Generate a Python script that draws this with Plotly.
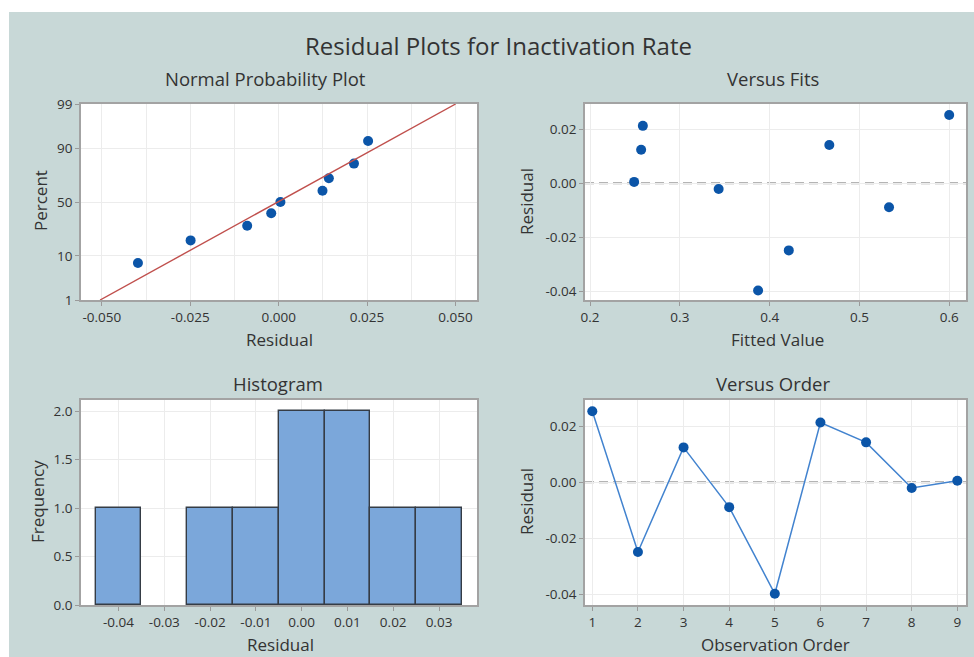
import statistics
from statistics import NormalDist

import plotly.graph_objects as go
from plotly.subplots import make_subplots

# Residuals and fitted values, listed in observation order
observation = [1, 2, 3, 4, 5, 6, 7, 8, 9]
residual = [0.0253, -0.0249, 0.0124, -0.0089, -0.0398, 0.0213, 0.0142, -0.0021, 0.0005]
fitted = [0.5999, 0.4213, 0.2569, 0.5329, 0.3871, 0.2588, 0.4664, 0.3432, 0.2491]

# Plotting positions (percent) for the sorted residuals on the probability plot
percent_positions = [7.4, 18.1, 28.7, 39.4, 50.0, 60.6, 71.3, 81.9, 92.6]
prob_ticks = [1, 10, 50, 90, 99]

# Histogram bins
bin_start, bin_end, bin_size = -0.045, 0.035, 0.01

W, H = 974, 657
BG = "#c8d8d7"
TXT = "#333333"
FONT = "Open Sans"
MARK = "#0b55a8"
FRAME = "#a3a3a3"
GRID = "#ececec"

nd = NormalDist()


def z(p):
    return nd.inv_cdf(p / 100.0)


def fx(px):
    return px / W


def fy(py):
    return 1 - py / H


fig = make_subplots(rows=2, cols=2)

# Normal probability plot
sorted_res = sorted(residual)
fig.add_trace(go.Scatter(
    x=sorted_res, y=[z(p) for p in percent_positions], mode="markers",
    marker=dict(color=MARK, size=10), hoverinfo="x+text",
    text=[f"{p}%" for p in percent_positions]), row=1, col=1)

mu = statistics.mean(residual)
sd = statistics.stdev(residual)
zl = [z(prob_ticks[0]), z(prob_ticks[-1])]
fig.add_trace(go.Scatter(
    x=[mu + sd * v for v in zl], y=zl, mode="lines",
    line=dict(color="#c0504d", width=1.4), hoverinfo="skip"), row=1, col=1)

# Versus fits
fig.add_trace(go.Scatter(
    x=fitted, y=residual, mode="markers",
    marker=dict(color=MARK, size=10)), row=1, col=2)

# Histogram of residuals
fig.add_trace(go.Histogram(
    x=residual, xbins=dict(start=bin_start, end=bin_end, size=bin_size),
    marker=dict(color="#7ba7da", line=dict(color="#353c45", width=1.4))),
    row=2, col=1)

# Versus order
fig.add_trace(go.Scatter(
    x=observation, y=residual, mode="lines+markers",
    line=dict(color="#4283cf", width=1.5),
    marker=dict(color=MARK, size=10)), row=2, col=2)

axis_common = dict(
    showline=True, mirror=True, linecolor=FRAME, linewidth=1.6,
    showgrid=True, gridcolor=GRID, gridwidth=1, zeroline=False,
    ticks="outside", ticklen=4, tickcolor="#9a9a9a",
    tickfont=dict(family=FONT, size=13.5, color=TXT),
)

left_x = [fx(81), fx(477)]
right_x = [fx(585), fx(966)]
top_y = [fy(300), fy(104)]
bot_y = [fy(605), fy(400)]

fig.update_layout(
    xaxis=dict(axis_common, domain=left_x, range=[-0.0559, 0.0561],
               tickvals=[-0.05, -0.025, 0, 0.025, 0.05],
               ticktext=["-0.050", "-0.025", "0.000", "0.025", "0.050"],
               minor=dict(dtick=0.0125, tick0=0, showgrid=True, gridcolor=GRID, ticks="")),
    yaxis=dict(axis_common, domain=top_y, range=zl,
               tickvals=[z(p) for p in prob_ticks],
               ticktext=[str(p) for p in prob_ticks]),
    xaxis2=dict(axis_common, domain=right_x, range=[0.1944, 0.6186],
                tickvals=[0.2, 0.3, 0.4, 0.5, 0.6],
                ticktext=["0.2", "0.3", "0.4", "0.5", "0.6"]),
    yaxis2=dict(axis_common, domain=top_y, range=[-0.0433, 0.0294],
                tickvals=[-0.04, -0.02, 0.0, 0.02],
                ticktext=["-0.04", "-0.02", "0.00", "0.02"]),
    xaxis3=dict(axis_common, domain=left_x, range=[-0.0482, 0.0383],
                tickvals=[-0.04, -0.03, -0.02, -0.01, 0, 0.01, 0.02, 0.03],
                ticktext=["-0.04", "-0.03", "-0.02", "-0.01", "0.00", "0.01", "0.02", "0.03"]),
    yaxis3=dict(axis_common, domain=bot_y, range=[0, 2.114],
                tickvals=[0, 0.5, 1.0, 1.5, 2.0],
                ticktext=["0.0", "0.5", "1.0", "1.5", "2.0"]),
    xaxis4=dict(axis_common, domain=right_x, range=[0.84, 9.19],
                tickvals=observation, ticktext=[str(o) for o in observation]),
    yaxis4=dict(axis_common, domain=bot_y, range=[-0.0438, 0.0293],
                tickvals=[-0.04, -0.02, 0.0, 0.02],
                ticktext=["-0.04", "-0.02", "0.00", "0.02"]),
    bargap=0,
    width=W, height=H,
    margin=dict(l=0, r=0, t=0, b=0, pad=0, autoexpand=False),
    paper_bgcolor=BG,
    plot_bgcolor="white",
    showlegend=False,
    font=dict(family=FONT, color=TXT),
)

shapes = [
    # white strips along the top and left edges of the canvas
    dict(type="rect", xref="paper", yref="paper", x0=0, x1=1, y0=fy(12), y1=1,
         fillcolor="white", line=dict(width=0), layer="below"),
    dict(type="rect", xref="paper", yref="paper", x0=0, x1=fx(9), y0=0, y1=1,
         fillcolor="white", line=dict(width=0), layer="below"),
    # zero reference lines on the residual-vs plots
    dict(type="line", xref="x2 domain", yref="y2", x0=0, x1=1, y0=0, y1=0,
         line=dict(color="#9c9c9c", width=2, dash="9px,5px"), layer="below"),
    dict(type="line", xref="x4 domain", yref="y4", x0=0, x1=1, y0=0, y1=0,
         line=dict(color="#9c9c9c", width=2, dash="9px,5px"), layer="below"),
]
fig.update_layout(shapes=shapes)


def label(text, px, py, size, angle=0):
    return dict(text=text, x=fx(px), y=fy(py), xref="paper", yref="paper",
                showarrow=False, xanchor="center", yanchor="middle",
                textangle=angle, font=dict(family=FONT, size=size, color=TXT))


annotations = [
    label("Residual Plots for Inactivation Rate", 498, 45, 24),
    label("Normal Probability Plot", 265, 78, 18.5),
    label("Versus Fits", 773, 78, 18.5),
    label("Histogram", 278, 383, 18.5),
    label("Versus Order", 773, 383, 18.5),
    label("Percent", 40, 201, 17, -90),
    label("Residual", 279, 339, 17),
    label("Residual", 526, 202, 17, -90),
    label("Fitted Value", 777, 339, 17),
    label("Frequency", 37, 502, 17, -90),
    label("Residual", 280, 644, 17),
    label("Residual", 526, 502, 17, -90),
    label("Observation Order", 775, 644, 17),
]
fig.update_layout(annotations=annotations)

fig.write_html("out.html")
